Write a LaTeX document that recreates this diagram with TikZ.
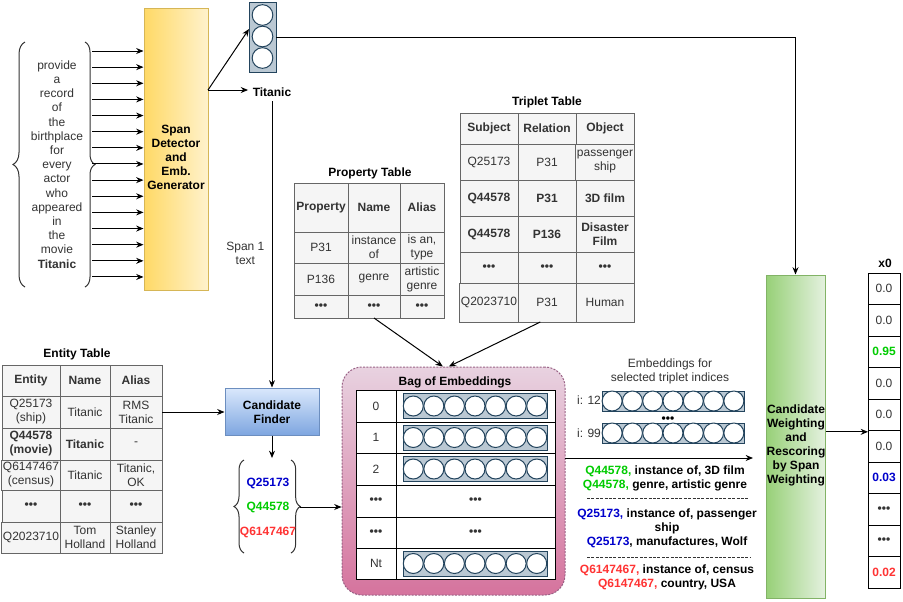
\documentclass[tikz,border=0pt]{standalone}
\usepackage{fontspec}
\setmainfont{Liberation Sans}
\usetikzlibrary{arrows.meta,decorations.pathreplacing,calc}

\definecolor{tgray}{HTML}{666666}
\definecolor{tfill}{HTML}{F5F5F5}
\definecolor{ttext}{HTML}{333333}
\definecolor{qblue}{HTML}{0000CC}
\definecolor{qgreen}{HTML}{00CC00}
\definecolor{qred}{HTML}{FF3333}
\definecolor{vecfill}{HTML}{BAC8D3}
\definecolor{vecdraw}{HTML}{23445D}
\definecolor{sdleft}{HTML}{FFD966}
\definecolor{sdright}{HTML}{FFF2CC}
\definecolor{sdline}{HTML}{D6B656}
\definecolor{cftop}{HTML}{DAE8FC}
\definecolor{cfbot}{HTML}{7EA6E0}
\definecolor{cfline}{HTML}{6C8EBF}
\definecolor{bagtop}{HTML}{E8D2E0}
\definecolor{bagbot}{HTML}{D5739D}
\definecolor{bagline}{HTML}{996185}
\definecolor{cwleft}{HTML}{97D077}
\definecolor{cwright}{HTML}{E4F1DF}
\definecolor{cwline}{HTML}{82B366}

\newcommand{\fnt}{\fontsize{9}{10.5}\selectfont}
% generic rectangle node given by its corners (in px)
\newcommand{\rnode}[7][]{\node[#1,minimum width={(#5-#3)*0.75pt},minimum height={(#6-#4)*0.75pt}] (#2) at ({(#3+#5)/2},{(#4+#6)/2}) {#7};}
% embedding strip with 7 circles
\newcommand{\vstrip}[5]{%
  \node[vecst,minimum width={(#4-#2)*0.75pt},minimum height={(#5-#3)*0.75pt}] (#1) at ({(#2+#4)/2},{(#3+#5)/2}) {};
  \foreach \k in {0,...,6} {\node[circst] (#1c\k) at ({#2+(#4-#2)/7*(\k+0.5)},{(#3+#5)/2}) {};}
}
\newcommand{\dts}{\textbf{•••}}

\begin{document}
\begin{tikzpicture}[x=0.75pt,y=-0.75pt,
  arr/.style={-{Stealth[length=5.5pt,width=4.5pt,inset=1.8pt]},line width=0.75pt,draw=black},
  tc/.style={draw=tgray,fill=tfill,text=ttext,line width=0.75pt,inner sep=1pt,align=center,font=\fnt,outer sep=0pt},
  tcb/.style={tc,font=\fnt\bfseries},
  wc/.style={draw=black,fill=white,text=ttext,line width=0.75pt,inner sep=1pt,align=center,font=\fnt,outer sep=0pt},
  vecst/.style={draw=vecdraw,fill=vecfill,line width=0.75pt,inner sep=0pt,outer sep=0pt},
  circst/.style={circle,draw=vecdraw,fill=white,line width=0.75pt,minimum size=15pt,inner sep=0pt},
  brc/.style={decorate,decoration={brace,amplitude=#1},draw=ttext,line width=0.75pt},
  ttl/.style={font=\fnt\bfseries,text=black,align=center},
  plain/.style={font=\fnt,text=ttext,align=center},
  sdst/.style={draw=sdline,left color=sdleft,right color=sdright,line width=0.75pt},
  cfst/.style={draw=cfline,top color=cftop,bottom color=cfbot,line width=0.75pt},
  cwst/.style={draw=cwline,left color=cwleft,right color=cwright,line width=0.75pt},
  bagst/.style={draw=bagline,top color=bagtop,bottom color=bagbot,line width=0.75pt,dash pattern=on 1.5pt off 1pt,rounded corners=15pt},
  sep/.style={draw=ttext,line width=0.75pt,dash pattern=on 2.2pt off 1.1pt}
]
\useasboundingbox (0,0) rectangle (903,601);
\fill[white] (0,0) rectangle (903,601);

% ---------- input words ----------
\draw[brc=9pt] (25,287) -- (25,42);
\draw[brc=7.5pt] (85,42) -- (85,287);
\node[font=\fontsize{9}{10.65}\selectfont,align=center,text=ttext] (words) at (57,164.5)
  {provide\\a\\record\\of\\the\\birthplace\\for\\every\\actor\\who\\appeared\\in\\the\\movie\\\textbf{Titanic}};

% ---------- span detector ----------
\rnode[sdst]{sd}{144}{8}{208}{290}{}
\node[ttl] (sdtxt) at (176,157) {Span\\Detector\\and\\Emb.\\Generator};
\foreach \i in {0,...,14} {
  \coordinate (w\i) at (92,{51+16.14*\i});
  \draw[arr] (w\i) -- (w\i -| sd.west);
}

% ---------- output vector + Titanic ----------
\rnode[vecst]{vec}{249}{2}{276}{72}{}
\foreach \k/\yy in {0/15,1/36.5,2/58} {\node[circst,minimum size=15.5pt] (vecc\k) at (262.5,\yy) {};}
\node[ttl] (titanic) at (272,92) {Titanic};
\coordinate (sdout) at (208,90);
\draw[arr] (sdout) -- ([yshift=6pt]vec.west);
\draw[arr] (sdout) -- (sdout -| titanic.west);

% ---------- candidate finder ----------
\rnode[cfst]{cf}{225}{388}{319}{435}{}
\node[ttl] (cftxt) at (272,412) {Candidate\\Finder};
\draw[arr] (titanic.south) -- node[pos=0.53,left=2pt,plain] (span1) {Span 1\\text} (cf.north);

% ---------- entity table ----------
\node[ttl] (etitle) at (77,354) {Entity Table};
\rnode[tcb]{e11}{2}{365}{60}{396}{Entity}
\rnode[tcb]{e12}{60}{365}{110}{396}{Name}
\rnode[tcb]{e13}{110}{365}{162}{396}{Alias}
\rnode[tc]{e21}{2}{396}{60}{428}{Q25173\\(ship)}
\rnode[tc]{e22}{60}{396}{110}{428}{Titanic}
\rnode[tc]{e23}{110}{396}{162}{428}{RMS\\Titanic}
\rnode[tcb]{e31}{2}{428}{60}{460}{Q44578\\(movie)}
\rnode[tcb]{e32}{60}{428}{110}{460}{Titanic}
\rnode[tc]{e33}{110}{428}{162}{460}{-}
\rnode[tc]{e41}{2}{460}{60}{490}{Q6147467\\(census)}
\rnode[tc]{e42}{60}{460}{110}{490}{Titanic}
\rnode[tc]{e43}{110}{460}{162}{490}{Titanic,\\OK}
\rnode[tc]{e51}{2}{490}{60}{522}{\dts}
\rnode[tc]{e52}{60}{490}{110}{522}{\dts}
\rnode[tc]{e53}{110}{490}{162}{522}{\dts}
\rnode[tc]{e61}{2}{522}{60}{553}{Q2023710}
\rnode[tc]{e62}{60}{522}{110}{553}{Tom\\Holland}
\rnode[tc]{e63}{110}{522}{162}{553}{Stanley\\Holland}
\draw[arr] (e23.east) -- (e23.east -| cf.west);

% ---------- candidates ----------
\coordinate (qtop) at (272,458);
\draw[arr] (cf.south) -- (qtop);
\draw[brc=7.5pt] (244,553) -- (244,460);
\draw[brc=7pt] (291,460) -- (291,553);
\node[ttl,text=qblue] (q1) at (268,483) {Q25173};
\node[ttl,text=qgreen] (q2) at (268,507) {Q44578};
\node[ttl,text=qred] (q3) at (268,532) {Q6147467};
\coordinate (qtip) at (300,507);

% ---------- property table ----------
\node[ttl] (ptitle) at (370,173) {Property Table};
\rnode[tcb]{p11}{294}{183}{348}{232}{Property}
\rnode[tcb]{p12}{348}{183}{400}{232}{Name}
\rnode[tcb]{p13}{400}{183}{444}{232}{Alias}
\rnode[tc]{p21}{294}{232}{348}{263}{P31}
\rnode[tc]{p22}{348}{232}{400}{263}{instance\\of}
\rnode[tc]{p23}{400}{232}{444}{263}{is an,\\type}
\rnode[tc]{p31}{294}{263}{348}{295}{P136}
\rnode[tc]{p32}{348}{263}{400}{295}{genre}
\rnode[tc]{p33}{400}{263}{444}{295}{artistic\\genre}
\rnode[tc]{p41}{294}{295}{348}{318}{\dts}
\rnode[tc]{p42}{348}{295}{400}{318}{\dts}
\rnode[tc]{p43}{400}{295}{444}{318}{\dts}

% ---------- triplet table ----------
\node[ttl] (ttitle) at (547,102) {Triplet Table};
\rnode[tcb]{t11}{460}{113}{518}{144}{Subject}
\rnode[tcb]{t12}{518}{113}{576}{144}{Relation}
\rnode[tcb]{t13}{576}{113}{634}{144}{Object}
\rnode[tc]{t21}{460}{144}{518}{180}{Q25173}
\rnode[tc]{t22}{518}{144}{576}{180}{P31}
\rnode[tc]{t23}{576}{144}{634}{180}{passenger\\ship}
\rnode[tcb]{t31}{460}{180}{518}{216}{Q44578}
\rnode[tcb]{t32}{518}{180}{576}{216}{P31}
\rnode[tcb]{t33}{576}{180}{634}{216}{3D film}
\rnode[tcb]{t41}{460}{216}{518}{252}{Q44578}
\rnode[tcb]{t42}{518}{216}{576}{252}{P136}
\rnode[tcb]{t43}{576}{216}{634}{252}{Disaster\\Film}
\rnode[tc]{t51}{460}{252}{518}{283}{\dts}
\rnode[tc]{t52}{518}{252}{576}{283}{\dts}
\rnode[tc]{t53}{576}{252}{634}{283}{\dts}
\rnode[tc]{t61}{460}{283}{518}{322}{Q2023710}
\rnode[tc]{t62}{518}{283}{576}{322}{P31}
\rnode[tc]{t63}{576}{283}{634}{322}{Human}

% ---------- bag of embeddings ----------
\rnode[bagst]{bag}{342}{367}{565}{595}{}
\node[ttl] (bagtitle) at (455,382) {Bag of Embeddings};
\rnode[wc]{b01}{356}{390}{396}{422}{0}
\rnode[wc]{b02}{396}{390}{555}{422}{}
\rnode[wc]{b11}{356}{422}{396}{453}{1}
\rnode[wc]{b12}{396}{422}{555}{453}{}
\rnode[wc]{b21}{356}{453}{396}{485}{2}
\rnode[wc]{b22}{396}{453}{555}{485}{}
\rnode[wc]{b31}{356}{485}{396}{517}{\dts}
\rnode[wc]{b32}{396}{485}{555}{517}{\dts}
\rnode[wc]{b41}{356}{517}{396}{548}{\dts}
\rnode[wc]{b42}{396}{517}{555}{548}{\dts}
\rnode[wc]{b51}{356}{548}{396}{579}{Nt}
\rnode[wc]{b52}{396}{548}{555}{579}{}
\vstrip{bs0}{403}{393.5}{547}{418.5}
\vstrip{bs1}{403}{425}{547}{450}
\vstrip{bs2}{403}{456.5}{547}{481.5}
\vstrip{bs5}{403}{551}{547}{576}
\draw[arr] (qtip) -- (qtip -| bag.west);
\draw[arr] (p42.south) -- ([xshift=-8pt]bag.north);
\draw[arr] ([xshift=-5pt]t62.south) -- ([xshift=-3.5pt]bag.north);

% ---------- selected embeddings ----------
\node[plain,font=\fontsize{9}{10}\selectfont] (seltxt) at (670,371.5) {Embeddings for\\selected triplet indices};
\vstrip{ss1}{602}{391}{744}{411}
\vstrip{ss2}{602}{423}{744}{443}
\node[plain] (i12) at (589,400) {i: 12};
\node[plain] (i99) at (589,433) {i: 99};
\node[ttl] (sdots) at (668,420) {•••};
\coordinate (bagout) at (565,458);
\coordinate (cwin) at (753,458);
\draw[arr] (bagout) -- (cwin);

\node[ttl] (g1) at (665,478) {\textcolor{qgreen}{Q44578,} instance of, 3D film\\\textcolor{qgreen}{Q44578,} genre, artistic genre};
\draw[sep] (587,498) -- (748,498);
\node[ttl] (g2) at (667,528) {\textcolor{qblue}{Q25173,} instance of, passenger\\ship\\\textcolor{qblue}{Q25173}, manufactures, Wolf};
\draw[sep] (587,557) -- (750,557);
\node[ttl] (g3) at (667,577.5) {\textcolor{qred}{Q6147467,} instance of, census\\\textcolor{qred}{Q6147467,} country, USA};

% ---------- candidate weighting ----------
\rnode[cwst]{cw}{766}{275}{825}{598}{}
\node[ttl] (cwtxt) at (796,445) {Candidate\\Weighting\\and\\Rescoring\\by Span\\Weighting};
\draw[arr] (vec.east) -| (cw.north);

% ---------- x0 column ----------
\node[ttl] (x0t) at (885,263) {x0};
\rnode[wc]{x0}{868}{273}{900}{304.5}{0.0}
\rnode[wc]{x1}{868}{304.5}{900}{336}{0.0}
\rnode[wc,font=\fnt\bfseries,text=qgreen]{x2}{868}{336}{900}{367.5}{0.95}
\rnode[wc]{x3}{868}{367.5}{900}{399}{0.0}
\rnode[wc]{x4}{868}{399}{900}{430.5}{0.0}
\rnode[wc]{x5}{868}{430.5}{900}{462}{0.0}
\rnode[wc,font=\fnt\bfseries,text=qblue]{x6}{868}{462}{900}{493.5}{0.03}
\rnode[wc]{x7}{868}{493.5}{900}{525}{\dts}
\rnode[wc]{x8}{868}{525}{900}{556.5}{\dts}
\rnode[wc,font=\fnt\bfseries,text=qred]{x9}{868}{556.5}{900}{588}{0.02}
\coordinate (cwout) at ([yshift=3.5pt]cw.east);
\draw[arr] (cwout) -- (cwout -| x5.west);
\end{tikzpicture}
\end{document}
